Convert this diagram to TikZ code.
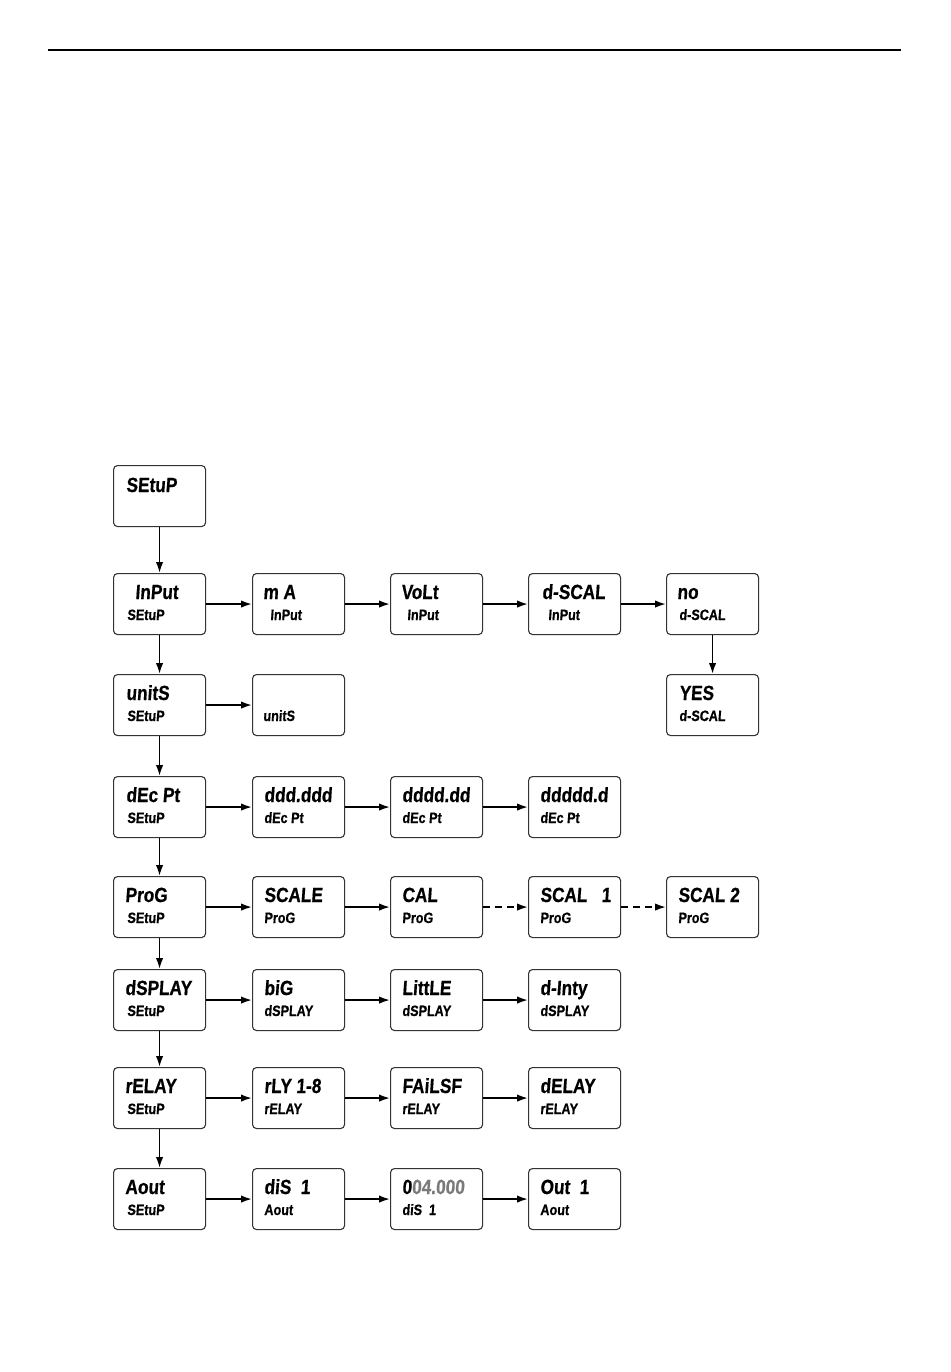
\documentclass[tikz,border=0pt]{standalone}
\usepackage{fontspec}
\newfontfamily\lcdfont[FakeStretch=0.84,FakeSlant=0.07,FakeBold=0.6]{Liberation Sans}
\usetikzlibrary{arrows.meta,calc}
\definecolor{boxgray}{HTML}{333333}
\definecolor{digitgray}{HTML}{7A7A7A}
\tikzset{
  lcdbox/.style={draw=boxgray,line width=1.1pt,rounded corners=4pt,minimum width=92pt,minimum height=61pt,inner sep=0pt,anchor=north west},
  bigtxt/.style={anchor=base west,inner sep=0pt,font=\lcdfont\bfseries\fontsize{20.5}{21}\selectfont},
  smalltxt/.style={anchor=base west,inner sep=0pt,font=\lcdfont\bfseries\fontsize{15}{16}\selectfont},
  arr/.style={line width=1.8pt,-{Latex[length=11pt,width=7.5pt]}},
  dasharr/.style={arr,dash pattern=on 7pt off 5pt}
}
% name, left, top, big text, big dx, small text, small dx
\newcommand\lcd[7]{%
  \node[lcdbox] (#1) at (#2,#3) {};
  \node[bigtxt] (#1-a) at ($(#1.north west)+(#5,26)$) {#4};
  \node[smalltxt] (#1-b) at ($(#1.north west)+(#7,47)$) {#6};
}
\begin{document}
\begin{tikzpicture}[x=1pt,y=-1pt]
\useasboundingbox (0,0) rectangle (950,1372);
\draw[line width=2pt] (48,50.5) -- (901,50.5);

% column lefts: 113, 252, 390, 528, 666
\node[lcdbox] (setup) at (113,465) {};
\node[bigtxt] (setup-a) at ($(setup.north west)+(13,27)$) {SEtuP};

\lcd{input}{113}{573}{InPut}{22}{SEtuP}{14}
\lcd{ma}{252}{573}{m A}{11}{InPut}{18}
\lcd{volt}{390}{573}{VoLt}{11}{InPut}{17}
\lcd{dscal}{528}{573}{d-SCAL}{14}{InPut}{20}
\lcd{no}{666}{573}{no}{11}{d-SCAL}{13}
\lcd{yes}{666}{674}{YES}{13}{d-SCAL}{13}

\lcd{units}{113}{674}{unitS}{13}{SEtuP}{14}
\node[lcdbox] (unitsv) at (252,674) {};
\node[smalltxt] (unitsv-b) at ($(unitsv.north west)+(11,47)$) {unitS};

\lcd{decpt}{113}{776}{dEc Pt}{13}{SEtuP}{14}
\lcd{d3}{252}{776}{ddd.ddd}{12}{dEc Pt}{12}
\lcd{d2}{390}{776}{dddd.dd}{12}{dEc Pt}{12}
\lcd{d1}{528}{776}{ddddd.d}{12}{dEc Pt}{12}

\lcd{prog}{113}{876}{ProG}{12}{SEtuP}{14}
\lcd{scale}{252}{876}{SCALE}{12}{ProG}{12}
\lcd{cal}{390}{876}{CAL}{12}{ProG}{12}
\lcd{scal1}{528}{876}{SCAL~~~1}{12}{ProG}{12}
\lcd{scal2}{666}{876}{SCAL~2}{12}{ProG}{12}

\lcd{dsplay}{113}{969}{dSPLAY}{12}{SEtuP}{14}
\lcd{big}{252}{969}{biG}{12}{dSPLAY}{12}
\lcd{little}{390}{969}{LittLE}{12}{dSPLAY}{12}
\lcd{dinty}{528}{969}{d-Inty}{12}{dSPLAY}{12}

\lcd{relay}{113}{1067}{rELAY}{12}{SEtuP}{14}
\lcd{rly}{252}{1067}{rLY 1-8}{12}{rELAY}{12}
\lcd{failsf}{390}{1067}{FAiLSF}{12}{rELAY}{12}
\lcd{delay}{528}{1067}{dELAY}{12}{rELAY}{12}

\lcd{aout}{113}{1168}{Aout}{12}{SEtuP}{14}
\lcd{dis}{252}{1168}{diS~~1}{12}{Aout}{12}
\lcd{val}{390}{1168}{0\textcolor{digitgray}{04.000}}{12}{diS~~1}{12}
\lcd{out}{528}{1168}{Out~~1}{12}{Aout}{12}

% vertical arrows
\draw[arr] (setup.south) -- (input.north);
\draw[arr] (input.south) -- (units.north);
\draw[arr] (units.south) -- (decpt.north);
\draw[arr] (decpt.south) -- (prog.north);
\draw[arr] (prog.south) -- (dsplay.north);
\draw[arr] (dsplay.south) -- (relay.north);
\draw[arr] (relay.south) -- (aout.north);
\draw[arr] (no.south) -- (yes.north);

% horizontal arrows
\draw[arr] (input.east) -- (ma.west);
\draw[arr] (ma.east) -- (volt.west);
\draw[arr] (volt.east) -- (dscal.west);
\draw[arr] (dscal.east) -- (no.west);
\draw[arr] (units.east) -- (unitsv.west);
\draw[arr] (decpt.east) -- (d3.west);
\draw[arr] (d3.east) -- (d2.west);
\draw[arr] (d2.east) -- (d1.west);
\draw[arr] (prog.east) -- (scale.west);
\draw[arr] (scale.east) -- (cal.west);
\draw[dasharr] (cal.east) -- (scal1.west);
\draw[dasharr] (scal1.east) -- (scal2.west);
\draw[arr] (dsplay.east) -- (big.west);
\draw[arr] (big.east) -- (little.west);
\draw[arr] (little.east) -- (dinty.west);
\draw[arr] (relay.east) -- (rly.west);
\draw[arr] (rly.east) -- (failsf.west);
\draw[arr] (failsf.east) -- (delay.west);
\draw[arr] (aout.east) -- (dis.west);
\draw[arr] (dis.east) -- (val.west);
\draw[arr] (val.east) -- (out.west);
\end{tikzpicture}
\end{document}
